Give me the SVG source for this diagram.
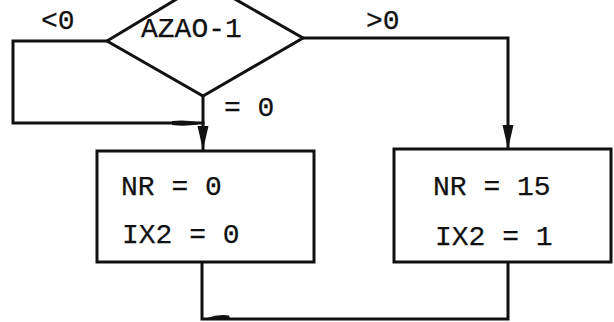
<svg xmlns="http://www.w3.org/2000/svg" width="614" height="322" viewBox="0 0 614 322">
  <style>
    .ln { fill: none; stroke: #111; stroke-width: 3; stroke-linejoin: miter; stroke-linecap: square; }
    .bx { fill: #fff; stroke: #111; stroke-width: 3; }
    .tx { font-family: "Liberation Mono", "Courier New", monospace; font-size: 28px; fill: #111; stroke: #111; stroke-width: 0.25; }
    .hd { fill: #111; stroke: none; }
  </style>
  <defs>
    <marker id="arr" markerUnits="userSpaceOnUse" markerWidth="26" markerHeight="12" refX="24" refY="5.5" orient="auto">
      <path d="M0,0 L24,5.5 L0,11 z" fill="#111"/>
    </marker>
  </defs>
  <rect width="614" height="322" fill="#fff"/>

  <g id="connectors">
    <polyline class="ln" points="107,41 13,41 13,123 203,123"/>
    <path class="hd" d="M172,121 Q185,119.5 198,122 L198,124.5 Q185,126.5 172,125 z"/>
    <line class="ln" x1="203" y1="96" x2="203" y2="150" marker-end="url(#arr)"/>
    <polyline class="ln" points="303,38 508,38 508,149" marker-end="url(#arr)"/>
    <polyline class="ln" points="202,262 202,319 508,319 508,262"/>
    <path class="hd" d="M207,318 Q218,314 229,315.5 L230,318.5 z"/>
  </g>

  <g id="decision">
    <polygon class="ln" points="107,41 205,-18 303,38 203,96"/>
    <text class="tx" x="141" y="37" font-size="27">AZAO-1</text>
    <text class="tx" x="41" y="29">&lt;0</text>
    <text class="tx" x="366" y="29">&gt;0</text>
    <text class="tx" x="224" y="116">= 0</text>
  </g>

  <g id="box-left">
    <rect class="bx" x="97" y="151" width="217" height="111"/>
    <text class="tx" x="121" y="195">NR = 0</text>
    <text class="tx" x="122" y="243">IX2 = 0</text>
  </g>

  <g id="box-right">
    <rect class="bx" x="394" y="149" width="217" height="113"/>
    <text class="tx" x="433" y="195">NR = 15</text>
    <text class="tx" x="435" y="245">IX2 = 1</text>
  </g>
</svg>
